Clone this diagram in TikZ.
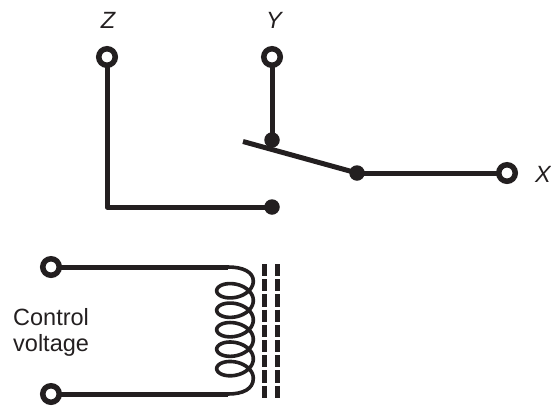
\documentclass[tikz,border=0pt]{standalone}
\usepackage{fontspec}
\setmainfont{Liberation Sans}
\definecolor{ink}{RGB}{35,31,32}
\begin{document}
\begin{tikzpicture}[x=1pt,y=-1pt,
  wire/.style={draw=ink,line width=5pt,line join=round},
  coilw/.style={draw=ink,line width=3.6pt,line join=round},
  term/.style={circle,draw=ink,fill=white,line width=5.5pt,minimum size=16.5pt,inner sep=0pt},
  jdot/.style={circle,fill=ink,minimum size=15.5pt,inner sep=0pt},
  lbl/.style={inner sep=0pt,text=ink,font=\fontsize{23.5}{27}\selectfont\itshape},
  txt/.style={inner sep=0pt,text=ink,font=\fontsize{23.5}{27}\selectfont},
  core/.style={draw=ink,line width=5pt,dash pattern=on 12.2pt off 3pt}]
\useasboundingbox (0,0) rectangle (551,410);
% switch wires
\coordinate (zc) at (107,57);
\coordinate (yc) at (272,57);
\coordinate (xc) at (507,173);
\node[jdot] (dy) at (272,140) {};
\node[jdot] (dz) at (272,207) {};
\node[jdot] (dl) at (357,173) {};
\coordinate (lv) at (243,141.5);
\draw[wire] (zc) |- (dz.center);
\draw[wire] (yc) -- (dy.center);
\draw[wire] (lv) -- (dl.center);
\draw[wire] (dl.center) -- (xc);
\node[term] (tz) at (zc) {};
\node[term] (ty) at (yc) {};
\node[term] (tx) at (xc) {};
\node[lbl,anchor=base] (lz) at (108,28) {Z};
\node[lbl,anchor=base] (ly) at (274,28) {Y};
\node[lbl,anchor=base west] (lx) at (535,182) {X};
% coil
\coordinate (c1c) at (51,267);
\coordinate (c2c) at (51,394);
\coordinate (l1) at (228,267);
\coordinate (l2) at (228,394);
\draw[wire] (c1c) -- (l1);
\draw[wire] (c2c) -- (l2);
\draw[coilw] (l1) .. controls (243,267) and (253.3,272) .. (253.3,281)
  -- plot[domain=0:1800,samples=500,smooth] ({235+18.3*cos(\x)},{281+0.0541*\x+11.6*sin(\x)})
  .. controls (253.3,389) and (243,394) .. (l2);
\node[term] (t1) at (c1c) {};
\node[term] (t2) at (c2c) {};
\draw[core] (264.5,264) -- (264.5,398);
\draw[core] (277.5,264) -- (277.5,398);
\node[txt,anchor=base west] (cv1) at (13,325.5) {Control};
\node[txt,anchor=base west] (cv2) at (13,351) {voltage};
\end{tikzpicture}
\end{document}
